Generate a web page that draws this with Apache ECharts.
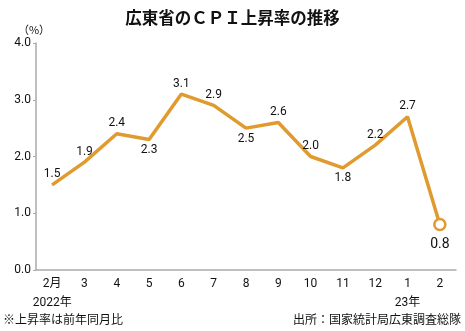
<!DOCTYPE html>
<html><head><meta charset="utf-8">
<script src="https://cdn.jsdelivr.net/npm/echarts@6/dist/echarts.min.js"></script>
<style>html,body{margin:0;padding:0;background:#fff}#c{width:465px;height:331px}</style>
</head><body><div id="c"></div>
<script>
const categories = ['2月\n2022年','3','4','5','6','7','8','9','10','11','12','1\n23年','2'];
const cpiValues = [1.5,1.9,2.4,2.3,3.1,2.9,2.5,2.6,2.0,1.8,2.2,2.7,0.8];
const labelBelow = [false,false,false,true,false,false,true,false,false,true,false,false,true];
const yTicks = [0,1,2,3,4];

const NUM = '"Roboto","Noto Sans CJK JP",sans-serif';
const CJK = '"Noto Sans CJK JP",sans-serif';
const orange = '#E09A2E';

const data = cpiValues.map((v,i)=>{
  const last = i === cpiValues.length-1;
  const d = {value:v, label:{position: labelBelow[i] ? 'bottom':'top'}};
  if (last) {
    d.symbol = 'circle'; d.symbolSize = 11;
    d.itemStyle = {color:'#fff', borderColor:orange, borderWidth:2.5};
    d.label.distance = 6; d.label.fontSize = 14;
  }
  return d;
});

const chart = echarts.init(document.getElementById('c'));
chart.setOption({
  animation:false,
  title:{text:'広東省のＣＰＩ上昇率の推移', left:'center', top:4,
    textStyle:{fontFamily:CJK, fontWeight:'bold', fontSize:16.5, color:'#111'}},
  grid:{left:36, right:9, top:43, bottom:61},
  xAxis:{type:'category', data:categories, boundaryGap:true,
    axisLine:{lineStyle:{color:'#aaa', width:1.5}},
    axisTick:{show:false},
    axisLabel:{fontFamily:NUM, fontSize:12, color:'#111', margin:4, lineHeight:19, interval:0}},
  yAxis:{type:'value', min:0, max:4, interval:1,
    name:'（%）', nameLocation:'end', nameGap:8,
    nameTextStyle:{fontFamily:CJK, fontSize:11, color:'#111', align:'center', padding:[0,4,0,0]},
    axisLine:{show:true, lineStyle:{color:'#aaa', width:1.5}},
    axisTick:{show:true, length:3, lineStyle:{color:'#aaa'}},
    splitLine:{show:false},
    axisLabel:{fontFamily:NUM, fontSize:12, color:'#111', margin:5,
      formatter:v=>v.toFixed(1)}},
  series:[{type:'line', data:data, symbol:'circle', symbolSize:1,
    itemStyle:{color:orange}, lineStyle:{color:orange, width:3.5},
    label:{show:true, fontFamily:NUM, fontSize:12, color:'#111', distance:4,
      formatter:p=>p.value.toFixed(1)}}],
  graphic:[
    {type:'text', left:3, top:313, style:{text:'※上昇率は前年同月比', font:'12px "Noto Sans CJK JP"', fill:'#111'}},
    {type:'text', right:4, top:313, style:{text:'出所：国家統計局広東調査総隊', font:'12px "Noto Sans CJK JP"', fill:'#111'}}
  ]
});
</script></body></html>
